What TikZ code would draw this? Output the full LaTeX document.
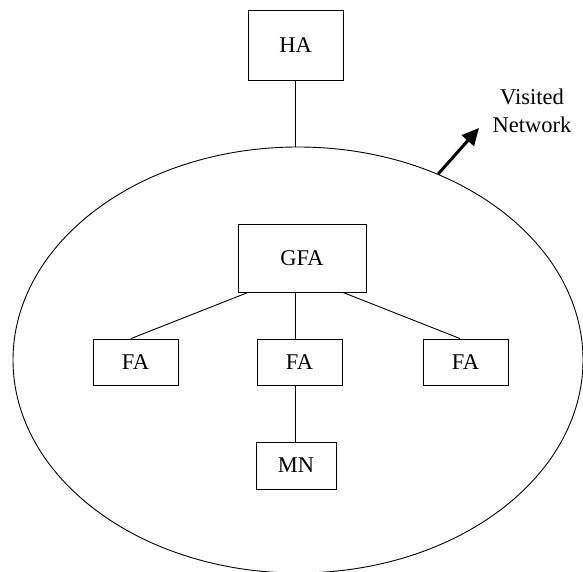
\documentclass[tikz,border=0pt]{standalone}
\usepackage{fontspec}
\setmainfont{Liberation Serif}
\usetikzlibrary{shapes.geometric,arrows.meta,calc}
\begin{document}
\begin{tikzpicture}[x=1pt,y=-1pt,
  box/.style={draw,line width=0.9pt,rectangle,inner sep=0pt,
    font=\fontsize{22.5}{28}\selectfont},
  link/.style={line width=0.9pt},
  pointer/.style={line width=3pt,-{Triangle[length=17pt,width=16pt]}}]
  \clip (0,0) rectangle (583,572);
  \useasboundingbox (0,0) rectangle (583,572);

  % visited network boundary
  \node[draw,line width=0.9pt,ellipse,inner sep=0pt,
        minimum width=570,minimum height=426] (net) at (298,360) {};

  % agents and mobile node
  \node[box,minimum width=95,minimum height=70] (ha) at (295.5,45) {HA};
  \node[box,minimum width=128,minimum height=68] (gfa) at (302,258) {GFA};
  \node[box,minimum width=85,minimum height=46] (fa1) at (135.5,362) {FA};
  \node[box,minimum width=85,minimum height=46] (fa2) at (299.5,362) {FA};
  \node[box,minimum width=85,minimum height=46] (fa3) at (465.5,362) {FA};
  \node[box,minimum width=80,minimum height=47] (mn) at (296,465.5) {MN};

  % label and its pointer
  \node[align=center,font=\fontsize{22.5}{28}\selectfont] (lbl) at (532,111) {Visited\\Network};
  \coordinate (tip) at (479,128);
  \draw[pointer] (net.53.8) -- (tip);

  % links
  \draw[link] ([xshift=-0.5]ha.south) -- ([xshift=-0.5]ha.south |- net.north);
  \draw[link] ([xshift=-54]gfa.south) -- ([xshift=-4.5]fa1.north);
  \draw[link] ([xshift=-4.5]fa2.north |- gfa.south) -- ([xshift=-4.5]fa2.north);
  \draw[link] ([xshift=41]gfa.south) -- ([xshift=-5.5]fa3.north);
  \draw[link] ([xshift=-4.5]fa2.south) -- ([xshift=-4.5]fa2.south |- mn.north);
\end{tikzpicture}
\end{document}
